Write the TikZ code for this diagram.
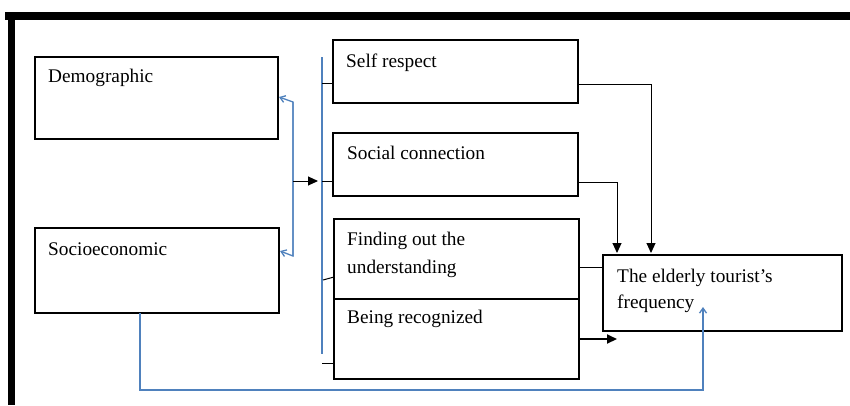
\documentclass[tikz,border=0pt]{standalone}
\usepackage{fontspec}
\setmainfont{Liberation Serif}
\usetikzlibrary{arrows.meta,calc}
\definecolor{ofblue}{RGB}{79,129,189}
\begin{document}
\begin{tikzpicture}[x=1pt,y=-1pt,
  box/.style={draw=black,line width=1.6pt,inner sep=0pt,outer sep=0pt,anchor=north west},
  txt/.style={inner sep=0pt,anchor=base west,font=\fontsize{19.3}{27}\selectfont},
  conn/.style={draw=black,line width=1pt},
  bconn/.style={draw=ofblue,line width=1.3pt},
  blk/.style={-{Triangle[length=10pt,width=9pt]}},
  btip/.style={-{Straight Barb[length=5pt,width=7pt]}}]
\useasboundingbox (0,0) rectangle (850,405);
% frame
\fill[black] (5,12) rectangle (850,20);
\fill[black] (8,12) rectangle (15,405);
% boxes
\node[box,minimum width=243pt,minimum height=82pt] (demo) at (35,57) {};
\node[box,minimum width=244pt,minimum height=85pt] (socio) at (35,228) {};
\node[box,minimum width=245pt,minimum height=63pt] (self) at (333,40) {};
\node[box,minimum width=245pt,minimum height=63pt] (social) at (333,133) {};
\node[box,minimum width=245pt,minimum height=80pt] (find) at (334,219) {};
\node[box,minimum width=245pt,minimum height=80pt] (recog) at (334,299) {};
\node[box,minimum width=239pt,minimum height=76pt] (freq) at (603,255) {};
% texts
\node[txt] (tdemo) at (48,82) {Demographic};
\node[txt] (tsocio) at (48,255) {Socioeconomic};
\node[txt] (tself) at (346,67) {Self respect};
\node[txt] (tsocial) at (347,159) {Social connection};
\node[txt] (tfind1) at (347,245) {Finding out the};
\node[txt] (tfind2) at (347,273) {understanding};
\node[txt] (trecog) at (347,323) {Being recognized};
\node[txt] (tfreq1) at (617,282) {The elderly tourist’s};
\node[txt] (tfreq2) at (617,308) {frequency};
% bus coordinates
\coordinate (busA1) at (322,57);
\coordinate (busA2) at (322,354);
\coordinate (busB1) at (293,102);
\coordinate (busB2) at (293,256);
\coordinate (busBm) at (293,181);
\coordinate (busAm) at (318,181);
% blue bus next to middle boxes
\draw[bconn] (busA1) -- (busA2);
% ticks
\coordinate (k1) at (322,83);
\coordinate (k2) at (322,181);
\coordinate (k3) at (323,280);
\coordinate (k4) at (322,363);
\draw[conn] (k1) -- (k1 -| self.west);
\draw[conn] (k2) -- (k2 -| social.west);
\draw[conn] (k3) -- ($(find.west |- k3)+(0,-3)$);
\draw[conn] (k4) -- (k4 -| recog.west);
% blue bus feeding demographic / socioeconomic
\draw[bconn,btip] (busB1) -- (busB2) -- ($(socio.north east)+(1,23)$);
\draw[bconn,btip] (busB2) -- (busB1) -- ($(demo.north east)+(1,40)$);
\draw[conn,blk] (busBm) -- (busAm);
% to frequency
\coordinate (s1) at ($(self.north east)+(0,44)$);
\coordinate (s2) at ($(social.north east)+(0,49)$);
\draw[conn,blk] (s1) -| ($(freq.north west)+(48,-2)$);
\draw[conn,blk] (s2) -| ($(freq.north west)+(14,-2)$);
\draw[conn] ($(find.north east)+(0,48)$) -- ($(freq.north west)+(0,12)$);
\draw[line width=2pt,blk] ($(recog.north east)+(0,40)$) -- ($(recog.north east)+(38,40)$);
\draw[bconn,btip] (socio.south west) ++(105,0) |- (703,390) -- ($(freq.south west)+(100,-24)$);
\end{tikzpicture}
\end{document}
